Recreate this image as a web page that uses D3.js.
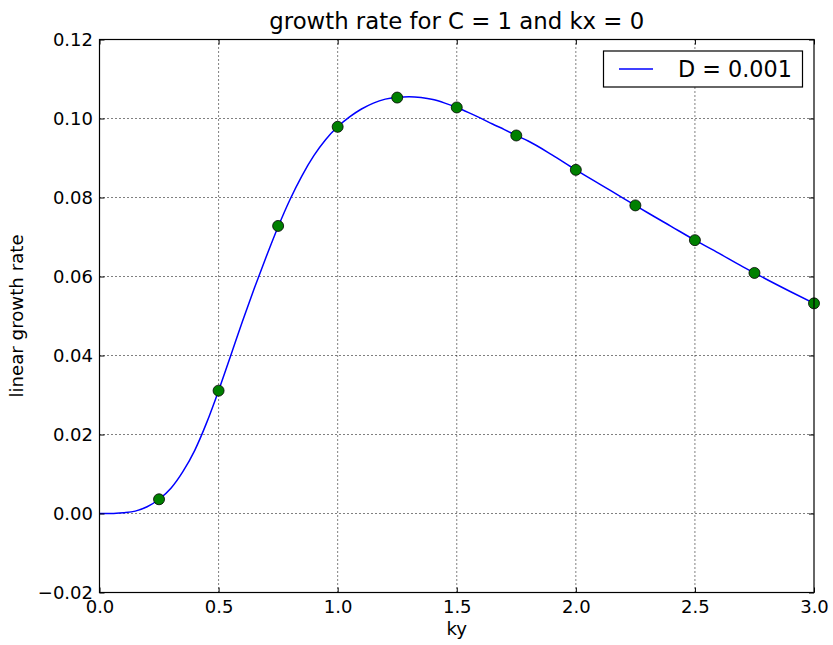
<!DOCTYPE html>
<html>
<head>
<meta charset="utf-8">
<script src="https://cdn.jsdelivr.net/npm/d3@7"></script>
<style>
  body { margin: 0; background: #fff; }
  svg { font-family: "DejaVu Sans", sans-serif; }
</style>
</head>
<body>
<svg width="833" height="645"></svg>
<script>
// curve
const curveKy = [0, 0.05, 0.1, 0.15, 0.2, 0.25, 0.3, 0.35, 0.4, 0.45, 0.5, 0.55, 0.6, 0.65, 0.7, 0.75,
  0.8, 0.85, 0.9, 0.95, 1.0, 1.05, 1.1, 1.15, 1.2, 1.25, 1.3, 1.35, 1.4, 1.45, 1.5, 1.55, 1.6, 1.65,
  1.7, 1.75, 1.8, 1.9, 2.0, 2.1, 2.2, 2.25, 2.3, 2.4, 2.5, 2.6, 2.7, 2.75, 2.8, 2.9, 3.0];
const curveRate = [0, 0, 0.0002, 0.0006, 0.0017, 0.0036, 0.0064, 0.0106, 0.0160, 0.0230, 0.0311, 0.0398,
  0.0486, 0.0570, 0.0650, 0.0726, 0.0795, 0.0855, 0.0906, 0.0947, 0.0979, 0.1004, 0.1024, 0.1039,
  0.1049, 0.1054, 0.1055, 0.1053, 0.1048, 0.1039, 0.1028, 0.1015, 0.1001, 0.0986, 0.0972, 0.0957,
  0.0943, 0.0908, 0.0870, 0.0834, 0.0798, 0.0780, 0.0762, 0.0727, 0.0692, 0.0659, 0.0625, 0.0609,
  0.0593, 0.0562, 0.0532];

// marker points
const pointKy = [0.25, 0.5, 0.75, 1.0, 1.25, 1.5, 1.75, 2.0, 2.25, 2.5, 2.75, 3.0];
const pointRate = [0.0036, 0.0311, 0.0728, 0.0979, 0.1053, 0.1028, 0.0957, 0.0870, 0.0780, 0.0692, 0.0609, 0.0532];

const xTicks = [0, 0.5, 1.0, 1.5, 2.0, 2.5, 3.0];
const yTicks = [-0.02, 0, 0.02, 0.04, 0.06, 0.08, 0.10, 0.12];

const svg = d3.select("svg");
const plotL = 99.5, plotR = 814, plotT = 39.5, plotB = 592.5;

const x = d3.scaleLinear().domain([0, 3]).range([plotL, plotR]);
const y = d3.scaleLinear().domain([-0.02, 0.12]).range([plotB, plotT]);

// grid
svg.append("g").selectAll("line")
  .data(xTicks.slice(1, -1))
  .enter().append("line")
  .attr("x1", d => x(d)).attr("x2", d => x(d))
  .attr("y1", plotT).attr("y2", plotB)
  .attr("stroke", "#000").attr("stroke-width", 1)
  .attr("stroke-dasharray", "1,3");
svg.append("g").selectAll("line")
  .data(yTicks.slice(1, -1))
  .enter().append("line")
  .attr("y1", d => y(d)).attr("y2", d => y(d))
  .attr("x1", plotL).attr("x2", plotR)
  .attr("stroke", "#000").attr("stroke-width", 1)
  .attr("stroke-dasharray", "1,3");

// curve
const line = d3.line()
  .x((d, i) => x(curveKy[i]))
  .y(d => y(d))
  .curve(d3.curveMonotoneX);

svg.append("clipPath").attr("id", "clip")
  .append("rect").attr("x", plotL).attr("y", plotT)
  .attr("width", plotR - plotL).attr("height", plotB - plotT);

svg.append("path")
  .datum(curveRate)
  .attr("d", line)
  .attr("fill", "none")
  .attr("stroke", "#0000ff")
  .attr("stroke-width", 1.5)
  .attr("clip-path", "url(#clip)");

svg.append("g").selectAll("circle")
  .data(pointRate)
  .enter().append("circle")
  .attr("cx", (d, i) => x(pointKy[i]))
  .attr("cy", d => y(d))
  .attr("r", 5.5)
  .attr("fill", "#008000")
  .attr("stroke", "#000")
  .attr("stroke-width", 0.8);

// axes (ticks inward on all four sides)
const fmtX = d => d3.format(".1f")(d);
const fmtY = d => d3.format(".2f")(d).replace("-", "\u2212").replace("\u22120.00", "0.00");

svg.append("g")
  .attr("transform", `translate(0,${plotB})`)
  .call(d3.axisBottom(x).tickValues(xTicks).tickFormat(fmtX).tickSizeInner(-5).tickSizeOuter(0).tickPadding(8))
  .call(g => g.select(".domain").remove());
svg.append("g")
  .attr("transform", `translate(0,${plotT})`)
  .call(d3.axisTop(x).tickValues(xTicks).tickFormat("").tickSizeInner(-5).tickSizeOuter(0))
  .call(g => g.select(".domain").remove());
svg.append("g")
  .attr("transform", `translate(${plotL},0)`)
  .call(d3.axisLeft(y).tickValues(yTicks).tickFormat(fmtY).tickSizeInner(-5).tickSizeOuter(0).tickPadding(6.5))
  .call(g => g.select(".domain").remove());
svg.append("g")
  .attr("transform", `translate(${plotR},0)`)
  .call(d3.axisRight(y).tickValues(yTicks).tickFormat("").tickSizeInner(-5).tickSizeOuter(0))
  .call(g => g.select(".domain").remove());

svg.selectAll(".tick text")
  .attr("font-family", "DejaVu Sans, sans-serif")
  .attr("font-size", 18)
  .attr("fill", "#000");
svg.selectAll(".tick line").attr("stroke", "#000");

svg.append("rect")
  .attr("x", plotL).attr("y", plotT)
  .attr("width", plotR - plotL).attr("height", plotB - plotT)
  .attr("fill", "none").attr("stroke", "#000").attr("stroke-width", 1.2);

// title and labels
svg.append("text")
  .attr("x", (plotL + plotR) / 2).attr("y", 29.3)
  .attr("text-anchor", "middle")
  .attr("font-size", 22.8)
  .text("growth rate for C = 1 and kx = 0");

svg.append("text")
  .attr("x", (plotL + plotR) / 2).attr("y", 635)
  .attr("text-anchor", "middle")
  .attr("font-size", 18.2)
  .text("ky");

svg.append("text")
  .attr("transform", `translate(23,${(plotT + plotB) / 2}) rotate(-90)`)
  .attr("text-anchor", "middle")
  .attr("font-size", 18.2)
  .text("linear growth rate");

// legend
const legend = svg.append("g");
legend.append("rect")
  .attr("x", 603.5).attr("y", 51)
  .attr("width", 199).attr("height", 36)
  .attr("fill", "#fff").attr("stroke", "#000").attr("stroke-width", 1.2);
legend.append("line")
  .attr("x1", 619).attr("x2", 653)
  .attr("y1", 69).attr("y2", 69)
  .attr("stroke", "#0000ff").attr("stroke-width", 1.5);
legend.append("text")
  .attr("x", 678).attr("y", 77)
  .attr("font-size", 22.3)
  .text("D = 0.001");
</script>
</body>
</html>
